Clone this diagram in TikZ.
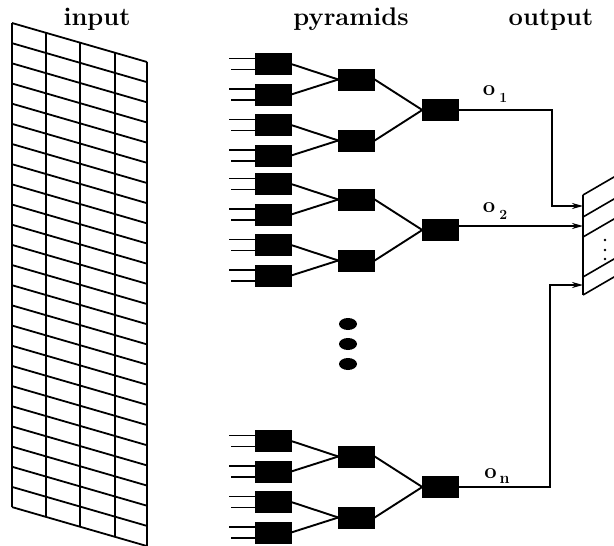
\documentclass[tikz,border=0pt]{standalone}
\usepackage{fontspec}
\usetikzlibrary{arrows.meta,shapes.geometric}
\tikzset{
  blk/.style={fill=black, draw=black, minimum width=36pt, minimum height=21pt, inner sep=0pt},
  wire/.style={line width=1.9pt},
  feed/.style={line width=1.6pt},
  gridline/.style={line width=1.8pt},
  outarrow/.style={line width=1.5pt, -{Stealth[length=11pt,width=6pt]}},
  title/.style={font=\fontsize{25.5}{28}\selectfont\bfseries, anchor=base},
  olabel/.style={font=\fontsize{22}{22}\selectfont\bfseries, inner sep=0pt}
}
\begin{document}
\begin{tikzpicture}[x=1pt,y=-1pt]
\useasboundingbox (0,0) rectangle (614,546);
% titles
\node[title] (tin) at (97,25) {input};
\node[title] (tpy) at (351,25) {pyramids};
\node[title] (tout) at (551,25) {output};
% input grid
\foreach \i in {0,...,24} {
  \draw[gridline] (12,23+\i*20.17) -- (147,62+\i*20.17);
}
\foreach \x/\d in {12/0,46/10,80/20,115/30,147/39} {
  \draw[gridline] (\x,23+\d) -- (\x,507+\d);
}
% pyramids
\foreach \g/\oy in {1/0,2/120,3/377} {
  \foreach \k/\yy in {1/64,2/94.5,3/125,4/155.5} {
    \node[blk] (a\g\k) at (273,\yy+\oy) {};
    \coordinate (ia\g\k) at (229,\yy+\oy-5.5);
    \coordinate (ib\g\k) at (231,\yy+\oy+5.5);
    \draw[feed] (ia\g\k) -- (ia\g\k -| a\g\k.west);
    \draw[feed] (ib\g\k) -- (ib\g\k -| a\g\k.west);
  }
  \node[blk] (b\g1) at (356.5,79.5+\oy) {};
  \node[blk] (b\g2) at (356.5,140.5+\oy) {};
  \node[blk] (c\g) at (440.5,110+\oy) {};
  \draw[wire] (a\g1.east) -- (b\g1.west);
  \draw[wire] (a\g2.east) -- (b\g1.west);
  \draw[wire] (a\g3.east) -- (b\g2.west);
  \draw[wire] (a\g4.east) -- (b\g2.west);
  \draw[wire] (b\g1.east) -- (c\g.west);
  \draw[wire] (b\g2.east) -- (c\g.west);
}
% ellipsis dots
\foreach \k/\yy in {1/324,2/344,3/364} {
  \node[fill=black, ellipse, minimum width=18pt, minimum height=12pt, inner sep=0pt] (dot\k) at (348,\yy) {};
}
% output register
\begin{scope}
\clip (0,0) rectangle (614,546);
\draw[line width=1.6pt] (583,195) -- (583,295);
\foreach \y in {195,217,237,277,295} {
  \draw[line width=1.6pt] (583,\y) -- (625,\y-24.4);
}
\fill (605,240) circle (1.4) (605,250) circle (1.4) (605,259) circle (1.4);
\end{scope}
\coordinate (r1) at (583,206);
\coordinate (r2) at (583,226);
\coordinate (rn) at (583,285);
\coordinate (k1) at (552,110);
\coordinate (kn) at (550,487);
% output connectors
\draw[outarrow] (c1.east) -- (k1) |- (r1);
\draw[outarrow] (c2.east |- r2) -- (r2);
\draw[outarrow] (c3.east) -- (kn) |- (rn);
% labels
\node[olabel] (o1) at (495,94) {o\hspace{4pt}\raisebox{-7pt}{\fontsize{14}{14}\selectfont\bfseries 1}};
\node[olabel] (o2) at (495,211) {o\hspace{4pt}\raisebox{-7pt}{\fontsize{14}{14}\selectfont\bfseries 2}};
\node[olabel] (on) at (497,476) {o\hspace{3pt}\raisebox{-5pt}{\fontsize{16}{16}\selectfont\bfseries n}};
\end{tikzpicture}
\end{document}
